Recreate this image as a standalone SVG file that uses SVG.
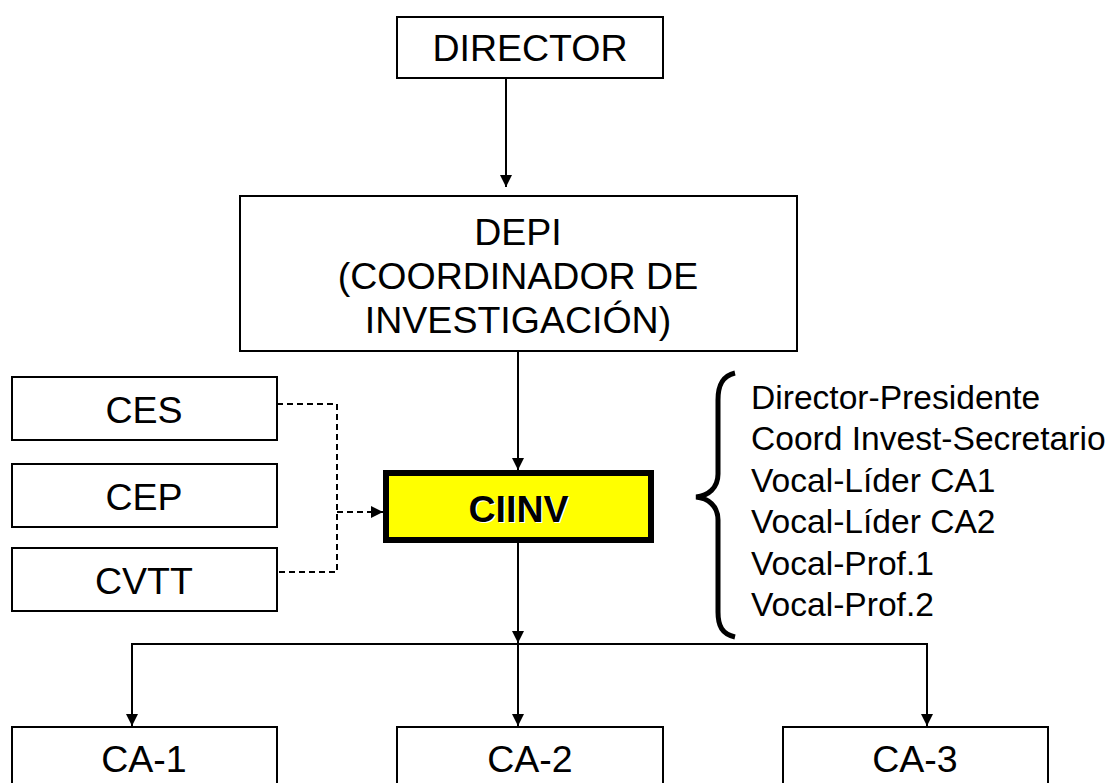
<svg xmlns="http://www.w3.org/2000/svg" width="1114" height="783" viewBox="0 0 1114 783">
<style>
.box{fill:#fff;stroke:#000;stroke-width:2}
.t{font-family:"Liberation Sans",Arial,sans-serif;font-size:37.5px;fill:#000;text-anchor:middle}
.ln{fill:none;stroke:#000;stroke-width:2}
.dash{fill:none;stroke:#000;stroke-width:2;stroke-dasharray:6 4}
.list{font-family:"Liberation Sans",Arial,sans-serif;font-size:33.6px;fill:#000}
</style>
<defs>
<marker id="ah" markerWidth="12" markerHeight="12" viewBox="0 0 12 12" refX="12" refY="6" orient="auto" markerUnits="userSpaceOnUse">
<path d="M0,0 L12,6 L0,12 Z" fill="#000"/>
</marker>
</defs>
<rect width="1114" height="783" fill="#fff"/>
<g id="director">
<rect class="box" x="397" y="17" width="266" height="61"/>
<text class="t" x="530" y="61">DIRECTOR</text>
</g>
<g id="depi">
<rect class="box" x="240" y="196" width="557" height="155"/>
<text class="t" x="518" y="245">DEPI</text>
<text class="t" x="518" y="289">(COORDINADOR DE</text>
<text class="t" x="518" y="333">INVESTIGACIÓN)</text>
</g>
<g id="ces">
<rect class="box" x="12" y="377" width="265" height="63"/>
<text class="t" x="144" y="423">CES</text>
</g>
<g id="cep">
<rect class="box" x="12" y="464" width="265" height="63"/>
<text class="t" x="144" y="510">CEP</text>
</g>
<g id="cvtt">
<rect class="box" x="12" y="548" width="265" height="63"/>
<text class="t" x="144" y="594">CVTT</text>
</g>
<g id="ciinv">
<rect x="386" y="473" width="265" height="67" fill="#ffff00" stroke="#000" stroke-width="6"/>
<text class="t" x="520" y="523" font-weight="bold" style="fill:#fff">CIINV</text>
<text class="t" x="518.5" y="521.5" font-weight="bold">CIINV</text>
</g>
<g id="members">
<path d="M735,373 C722,376 718,386 718,400 L718,474 C718,488 708,496 696,497 C708,498 718,506 718,520 L718,612 C718,626 722,634 735,637" fill="none" stroke="#000" stroke-width="5"/>
<text class="list" x="751" y="409">Director-Presidente</text>
<text class="list" x="751" y="450">Coord Invest-Secretario</text>
<text class="list" x="751" y="492">Vocal-Líder CA1</text>
<text class="list" x="751" y="533">Vocal-Líder CA2</text>
<text class="list" x="751" y="575">Vocal-Prof.1</text>
<text class="list" x="751" y="616">Vocal-Prof.2</text>
</g>
<g id="ca1">
<rect class="box" x="12" y="727" width="265" height="80"/>
<text class="t" x="144" y="772">CA-1</text>
</g>
<g id="ca2">
<rect class="box" x="397" y="727" width="266" height="80"/>
<text class="t" x="530" y="772">CA-2</text>
</g>
<g id="ca3">
<rect class="box" x="783" y="727" width="265" height="80"/>
<text class="t" x="915" y="772">CA-3</text>
</g>
<g id="connectors">
<line class="ln" x1="506" y1="78" x2="506" y2="187" marker-end="url(#ah)"/>
<line class="ln" x1="518" y1="352" x2="518" y2="470" marker-end="url(#ah)"/>
<polyline class="dash" points="277,404 337,404 337,572 277,572"/>
<line class="dash" x1="337" y1="512" x2="383" y2="512" marker-end="url(#ah)"/>
<line class="ln" x1="518" y1="543" x2="518" y2="643" marker-end="url(#ah)"/>
<polyline class="ln" points="132,727 132,644 927,644 927,727"/>
<line class="ln" x1="132" y1="644" x2="132" y2="726" marker-end="url(#ah)"/>
<line class="ln" x1="518" y1="644" x2="518" y2="726" marker-end="url(#ah)"/>
<line class="ln" x1="927" y1="644" x2="927" y2="726" marker-end="url(#ah)"/>
</g>
</svg>
